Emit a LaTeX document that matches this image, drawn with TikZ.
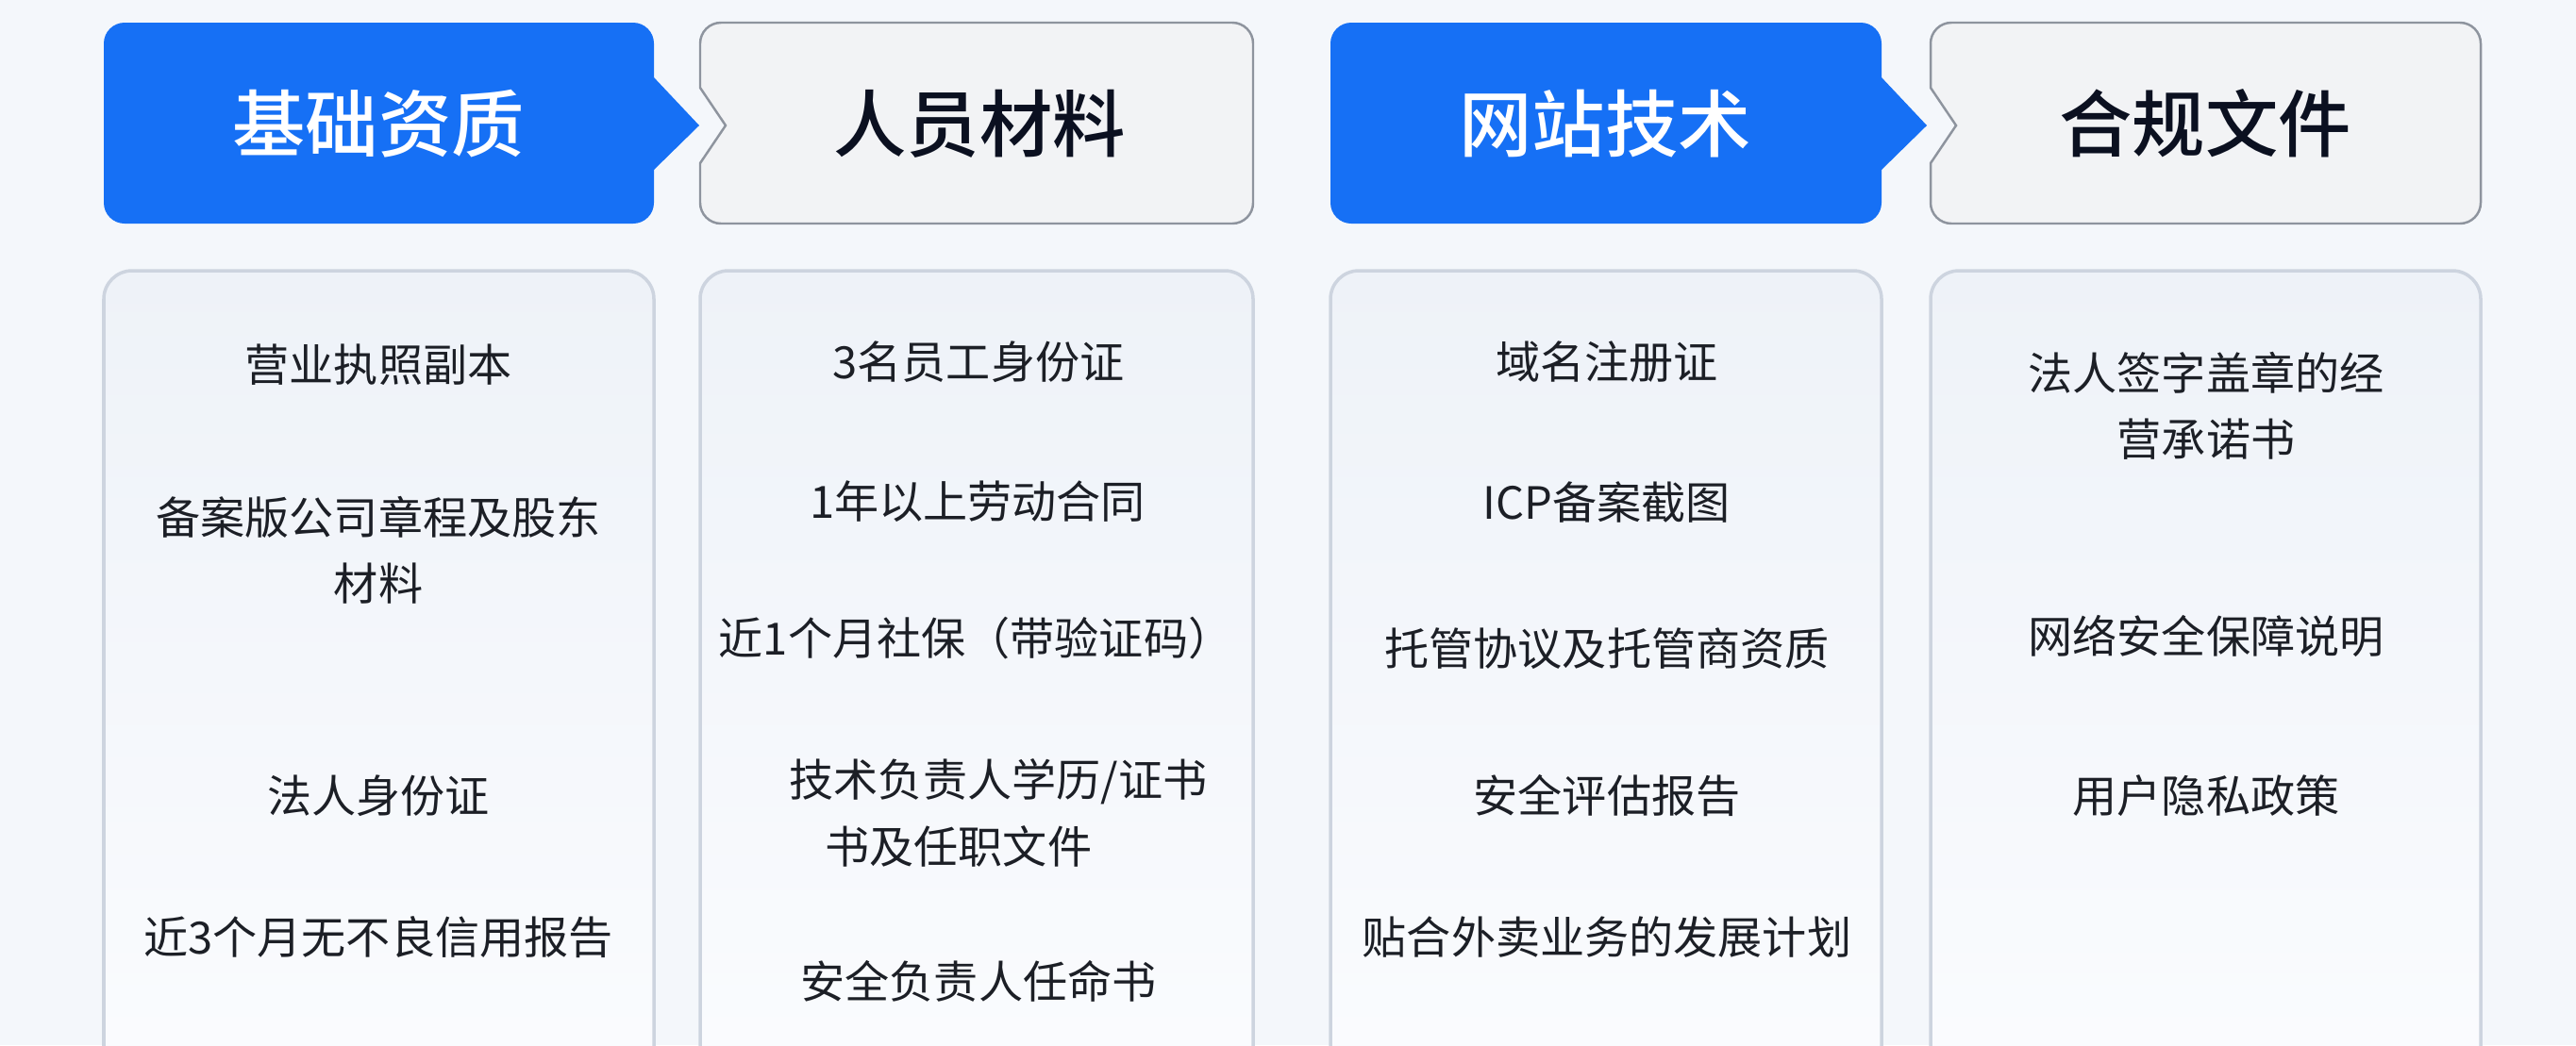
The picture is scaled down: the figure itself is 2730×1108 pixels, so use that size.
\documentclass[tikz,border=0pt]{standalone}
\usepackage{fontspec}
\setmainfont{Noto Sans CJK SC}
\newfontfamily\headfont{Noto Sans CJK SC Medium}
\tikzset{>=latex}
\definecolor{myblue}{RGB}{22,112,245}
\definecolor{mygrayfill}{RGB}{242,243,245}
\definecolor{mygrayline}{RGB}{142,148,158}
\definecolor{mypanelline}{RGB}{205,212,223}
\definecolor{mypaneltop}{RGB}{238,242,248}
\definecolor{mypanelbot}{RGB}{252,253,255}
\definecolor{mybg}{RGB}{244,247,251}
\definecolor{mytext}{RGB}{28,31,38}
\definecolor{myhead}{RGB}{11,16,32}
\tikzset{
  headtext/.style={font=\fontsize{22}{26}\selectfont\headfont,text=myhead},
  item/.style={font=\fontsize{13.4}{20}\selectfont,text=mytext,align=center,inner sep=0pt},
  panel/.style={draw=mypanelline,line width=1pt,rounded corners=0.3cm,
    top color=mypaneltop,bottom color=mypanelbot},
}
% blue tab, arrow on the right: left x, right x
\def\bluetab#1#2{\fill[myblue,rounded corners=0.22cm] (#1,24) rectangle (#2,237);
  \fill[myblue] (#2-1,81) -- (#2+48,133) -- (#2-1,181) -- cycle}
% gray tab, notch on the left: left x, right x
\def\graytab#1#2{\filldraw[fill=mygrayfill,draw=mygrayline,line width=0.7pt]
  (#1+27,133) -- (#1,93) [rounded corners=0.22cm] -- (#1,24) -- (#2,24)
  -- (#2,237) -- (#1,237) [sharp corners] -- (#1,173) -- cycle}

\begin{document}
\begin{tikzpicture}[x=0.01cm,y=-0.01cm]

  % canvas
  \useasboundingbox (0,0) rectangle (2730,1108);
  \clip (0,0) rectangle (2730,1108);
  \fill[mybg] (0,0) rectangle (2730,1108);

  % panels
  \foreach \xa/\xb in {110/693,742/1328,1410/1994,2046/2629}
    \draw[panel] (\xa,287) rectangle (\xb,1250);

  % tabs
  \bluetab{110}{693};
  \graytab{742}{1328};
  \bluetab{1410}{1994};
  \graytab{2046}{2629};

  % tab labels
  \node[headtext,text=white] (h1) at (401,131) {基础资质};
  \node[headtext] (h2) at (1038,131) {人员材料};
  \node[headtext,text=white] (h3) at (1701,131) {网站技术};
  \node[headtext] (h4) at (2337,131) {合规文件};

  % items
  \node[item] (a1) at (401,387) {营业执照副本};
  \node[item] (a2) at (401,583) {备案版公司章程及股东\\材料};
  \node[item] (a3) at (401,844) {法人身份证};
  \node[item] (a4) at (401,994) {近3个月无不良信用报告};

  \node[item] (b1) at (1037,384) {3名员工身份证};
  \node[item] (b2) at (1036,532) {1年以上劳动合同};
  \node[item] (b3) at (1034,677) {近1个月社保（带验证码）};
  \node[item,anchor=west,align=left] (b4) at (836,862)
    {技术负责人学历/证书\\\hspace*{0.8em}书及任职文件};
  \node[item] (b5) at (1037,1040) {安全负责人任命书};

  \node[item] (c1) at (1703,384) {域名注册证};
  \node[item] (c2) at (1703,532) {ICP备案截图};
  \node[item] (c3) at (1703,688) {托管协议及托管商资质};
  \node[item] (c4) at (1703,844) {安全评估报告};
  \node[item] (c5) at (1703,994) {贴合外卖业务的发展计划};

  \node[item] (d1) at (2338,430) {法人签字盖章的经\\营承诺书};
  \node[item] (d2) at (2338,674) {网络安全保障说明};
  \node[item] (d3) at (2338,844) {用户隐私政策};

\end{tikzpicture}
\end{document}
